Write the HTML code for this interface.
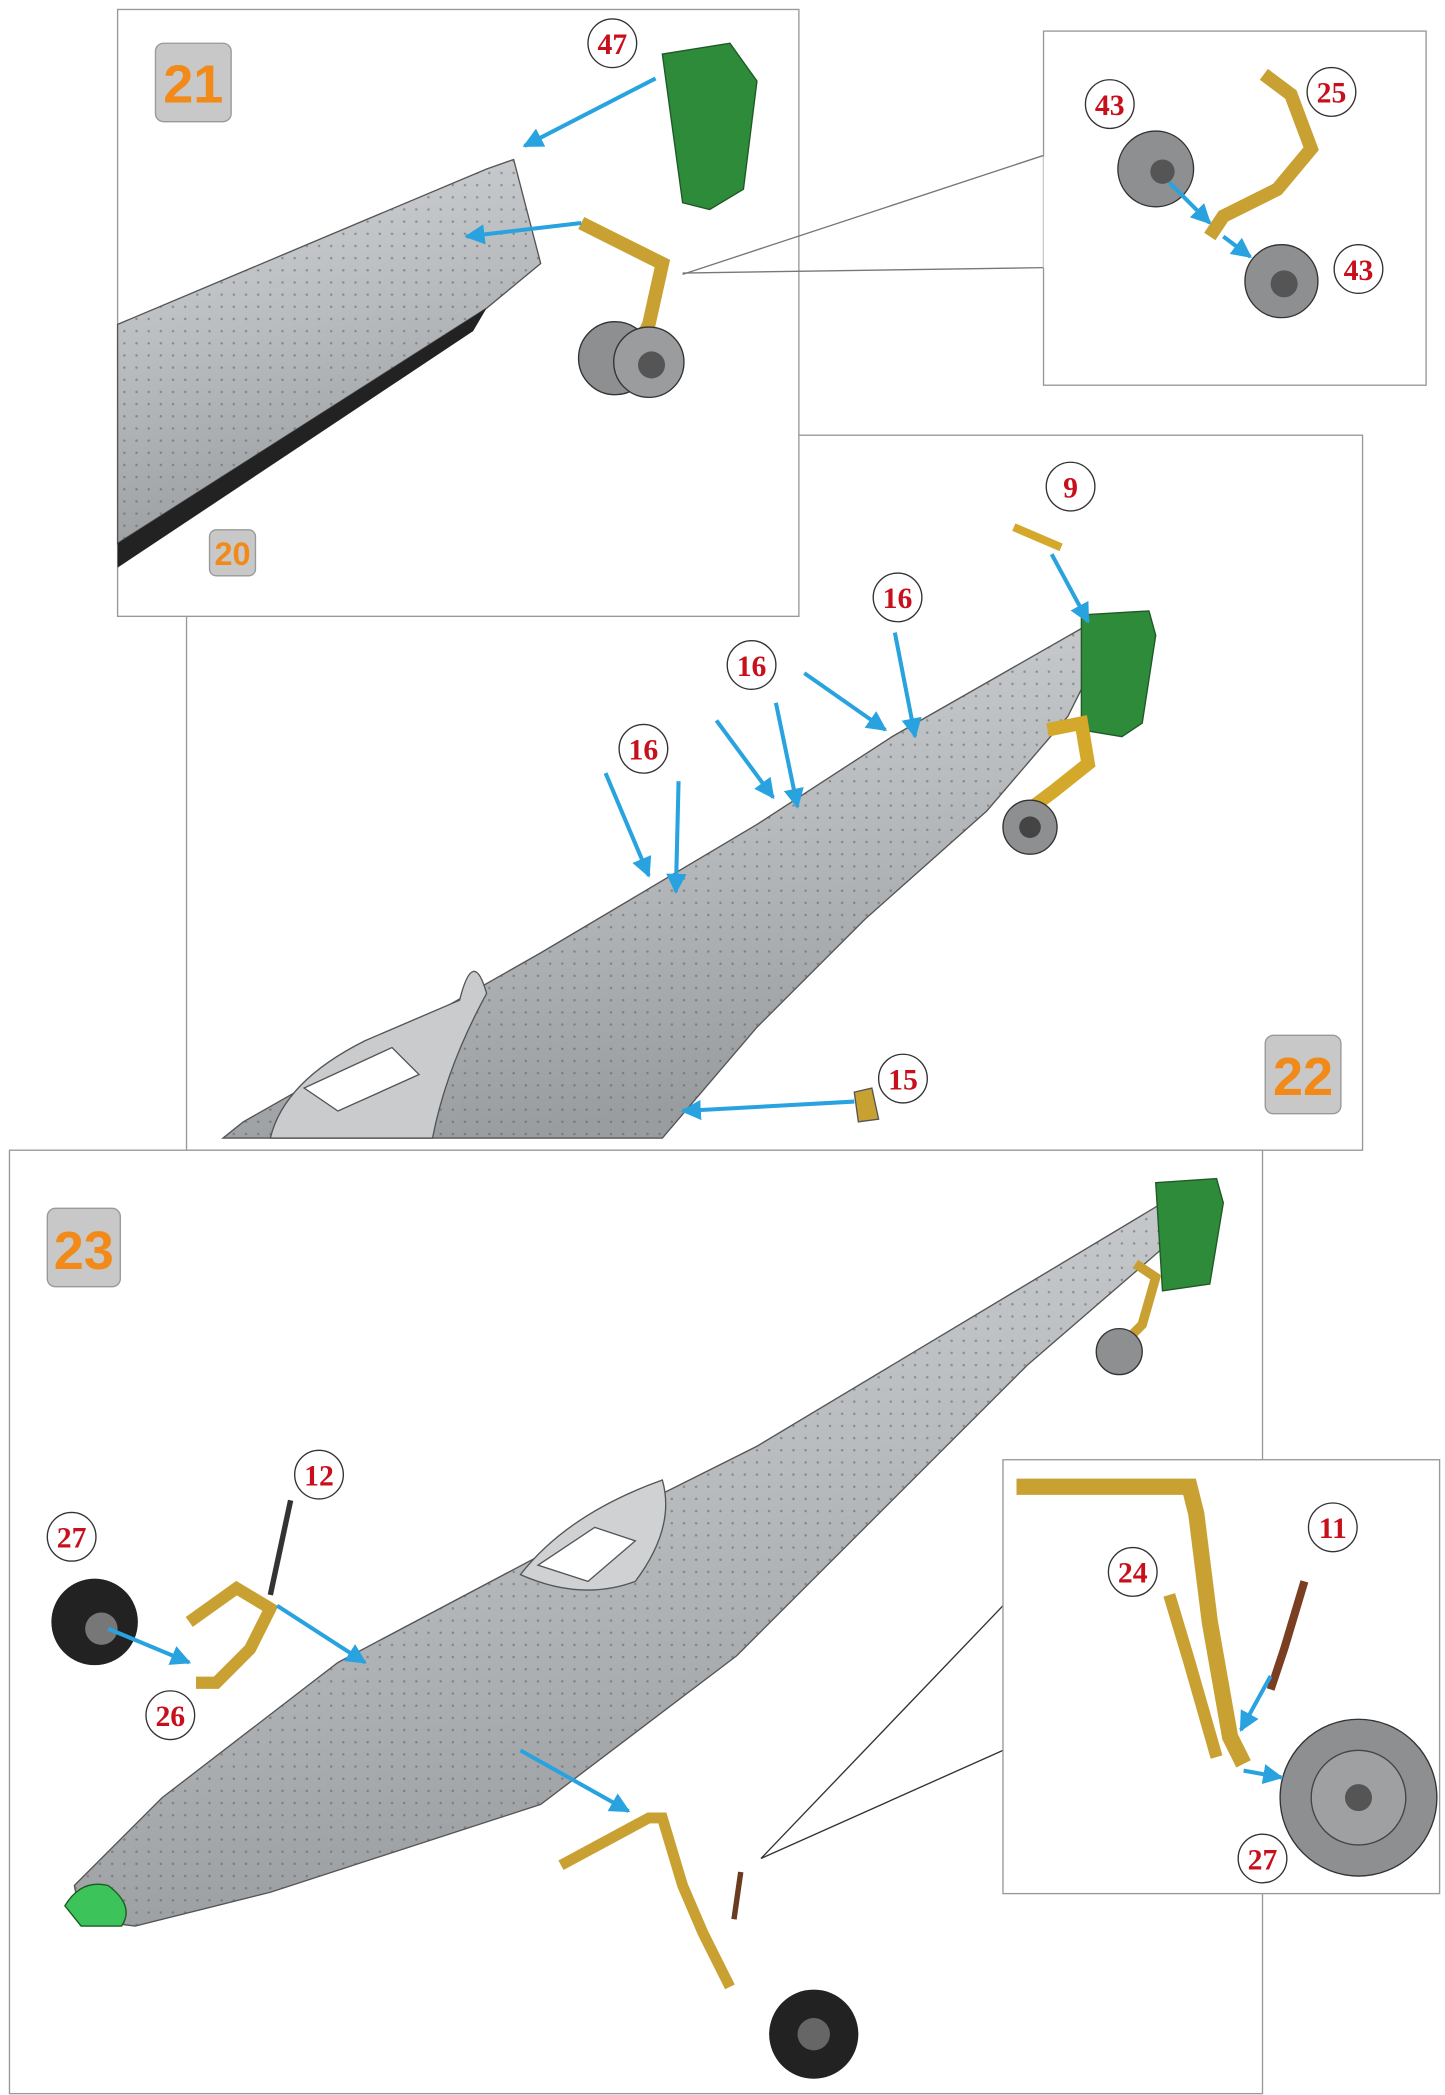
<!DOCTYPE html>
<html><head><meta charset="utf-8"><style>
html,body{margin:0;padding:0;background:#fff;}
svg{display:block;}
.cn{font-family:"Liberation Serif",serif;font-weight:bold;fill:#c8101c;font-size:22px;text-anchor:middle;}
.st{font-family:"Liberation Sans",sans-serif;font-weight:bold;fill:#f28a1a;text-anchor:middle;}
.ar{stroke:#29a3e0;stroke-width:3;fill:none;}
</style></head><body>
<svg width="1445" height="2095" viewBox="0 0 1069 1550" preserveAspectRatio="none" xmlns="http://www.w3.org/2000/svg">
<defs>
<marker id="ah" viewBox="0 0 10 10" refX="9" refY="5" markerWidth="5" markerHeight="5" orient="auto"><path d="M0,0L10,5L0,10z" fill="#29a3e0"/></marker>
<linearGradient id="fg" x1="0" y1="0" x2="0.3" y2="1"><stop offset="0" stop-color="#d4d6d8"/><stop offset="0.5" stop-color="#b9bcbf"/><stop offset="1" stop-color="#9a9da0"/></linearGradient>
<pattern id="dots" width="9" height="9" patternUnits="userSpaceOnUse"><circle cx="2" cy="2" r="0.9" fill="#555"/></pattern>
</defs>

<!-- Panel 22 -->
<rect x="138" y="322" width="870" height="529" fill="#fff" stroke="#999"/>
<path d="M165,842 L180,830 L400,705 L560,610 L660,545 L800,465 L815,480 L790,530 L730,600 L640,680 L560,760 L490,842 Z" fill="url(#fg)" stroke="#555"/>
<path d="M165,842 L180,830 L400,705 L560,610 L660,545 L800,465 L815,480 L790,530 L730,600 L640,680 L560,760 L490,842 Z" fill="url(#dots)" opacity="0.5"/>
<path d="M200,842 Q210,800 270,770 L340,740 Q350,700 360,735 Q330,790 320,842 Z" fill="#c9cbcd" stroke="#555"/>
<path d="M225,805 L290,775 L310,795 L250,822 Z" fill="#fff" stroke="#555"/>
<path d="M800,455 L850,452 L855,470 L845,535 L830,545 L800,540 Z" fill="#2e8b3a" stroke="#1d5a25"/>
<path d="M775,540 L800,535 L805,565 L780,585 L760,600" stroke="#d4a82a" stroke-width="10" fill="none"/>
<circle cx="762" cy="612" r="20" fill="#8d8f91" stroke="#333"/><circle cx="762" cy="612" r="8" fill="#444"/>
<path d="M750,390 L785,405" stroke="#d4a82a" stroke-width="6"/>
<line x1="778" y1="410" x2="805" y2="460" class="ar" marker-end="url(#ah)"/>
<line x1="595" y1="498" x2="655" y2="540" class="ar" marker-end="url(#ah)"/>
<line x1="662" y1="468" x2="677" y2="545" class="ar" marker-end="url(#ah)"/>
<line x1="530" y1="533" x2="572" y2="590" class="ar" marker-end="url(#ah)"/>
<line x1="574" y1="520" x2="590" y2="597" class="ar" marker-end="url(#ah)"/>
<line x1="448" y1="572" x2="480" y2="648" class="ar" marker-end="url(#ah)"/>
<line x1="502" y1="578" x2="500" y2="660" class="ar" marker-end="url(#ah)"/>
<line x1="632" y1="815" x2="505" y2="822" class="ar" marker-end="url(#ah)"/>
<path d="M632,808 L645,805 L650,828 L635,830 Z" fill="#c7a132" stroke="#555"/>
<g><circle cx="792" cy="360" r="18" fill="#fff" stroke="#333"/><text x="792" y="368" class="cn">9</text></g>
<g><circle cx="664" cy="442" r="18" fill="#fff" stroke="#333"/><text x="664" y="450" class="cn">16</text></g>
<g><circle cx="556" cy="492" r="18" fill="#fff" stroke="#333"/><text x="556" y="500" class="cn">16</text></g>
<g><circle cx="476" cy="554" r="18" fill="#fff" stroke="#333"/><text x="476" y="562" class="cn">16</text></g>
<g><circle cx="668" cy="798" r="18" fill="#fff" stroke="#333"/><text x="668" y="806" class="cn">15</text></g>
<rect x="936" y="766" width="56" height="58" rx="6" fill="#c8c8c8" stroke="#999"/><text x="964" y="810" class="st" font-size="40">22</text>

<!-- Panel 21 -->
<rect x="87" y="7" width="504" height="449" fill="#fff" stroke="#999"/>
<path d="M87,240 L360,125 L380,118 L400,195 L360,228 L87,402 Z" fill="url(#fg)" stroke="#555"/>
<path d="M87,240 L360,125 L380,118 L400,195 L360,228 L87,402 Z" fill="url(#dots)" opacity="0.5"/>
<path d="M87,402 L360,228 L350,245 L87,420 Z" fill="#222"/>
<path d="M490,40 L540,32 L560,60 L550,140 L525,155 L505,150 Z" fill="#2e8b3a" stroke="#1d5a25"/>
<path d="M430,165 L470,185 L490,195 L480,240 L470,260" stroke="#c9a032" stroke-width="10" fill="none"/>
<circle cx="455" cy="265" r="27" fill="#8d8f91" stroke="#333"/><circle cx="480" cy="268" r="26" fill="#9a9c9e" stroke="#333"/><circle cx="482" cy="270" r="10" fill="#555"/>
<line x1="485" y1="58" x2="388" y2="108" class="ar" marker-end="url(#ah)"/>
<line x1="430" y1="165" x2="345" y2="175" class="ar" marker-end="url(#ah)"/>
<g><circle cx="453" cy="32" r="18" fill="#fff" stroke="#333"/><text x="453" y="40" class="cn">47</text></g>
<rect x="115" y="32" width="56" height="58" rx="6" fill="#c8c8c8" stroke="#999"/><text x="143" y="76" class="st" font-size="40">21</text>
<rect x="155" y="392" width="34" height="34" rx="5" fill="#c8c8c8" stroke="#999"/><text x="172" y="418" class="st" font-size="24">20</text>

<!-- inset top right -->
<polyline points="505,203 772,115" stroke="#777" fill="none"/>
<polyline points="505,202 772,198" stroke="#777" fill="none"/>
<rect x="772" y="23" width="283" height="262" fill="#fff" stroke="#999"/>
<rect x="772" y="116" width="2" height="82" fill="#fff"/>
<path d="M935,55 L955,70 L970,110 L945,140 L905,160 L895,175" stroke="#c9a032" stroke-width="10" fill="none"/>
<circle cx="855" cy="125" r="28" fill="#8d8f91" stroke="#333"/><circle cx="860" cy="127" r="9" fill="#555"/>
<circle cx="948" cy="208" r="27" fill="#8d8f91" stroke="#333"/><circle cx="950" cy="210" r="10" fill="#555"/>
<line x1="865" y1="135" x2="895" y2="165" class="ar" marker-end="url(#ah)"/>
<line x1="905" y1="175" x2="925" y2="190" class="ar" marker-end="url(#ah)"/>
<g><circle cx="821" cy="77" r="18" fill="#fff" stroke="#333"/><text x="821" y="85" class="cn">43</text></g>
<g><circle cx="985" cy="68" r="18" fill="#fff" stroke="#333"/><text x="985" y="76" class="cn">25</text></g>
<g><circle cx="1005" cy="199" r="18" fill="#fff" stroke="#333"/><text x="1005" y="207" class="cn">43</text></g>

<!-- Panel 23 -->
<rect x="7" y="851" width="927" height="698" fill="#fff" stroke="#999"/>
<path d="M55,1395 L120,1330 L250,1230 L420,1140 L560,1070 L860,890 L870,915 L760,1010 L545,1225 L400,1335 L200,1400 L100,1425 L60,1420 Z" fill="url(#fg)" stroke="#555"/>
<path d="M55,1395 L120,1330 L250,1230 L420,1140 L560,1070 L860,890 L870,915 L760,1010 L545,1225 L400,1335 L200,1400 L100,1425 L60,1420 Z" fill="url(#dots)" opacity="0.5"/>
<path d="M48,1410 Q60,1390 80,1395 Q100,1410 90,1425 L60,1425 Z" fill="#3cc45a" stroke="#1d5a25"/>
<path d="M385,1165 Q420,1120 490,1095 Q500,1130 470,1170 Q430,1185 385,1165 Z" fill="#cfd1d3" stroke="#555"/>
<path d="M398,1158 L440,1130 L470,1140 L435,1170 Z" fill="#fff" stroke="#555"/>
<path d="M855,875 L900,872 L905,890 L895,950 L860,955 Z" fill="#2e8b3a" stroke="#1d5a25"/>
<path d="M840,935 L855,945 L845,980 L830,995" stroke="#c9a032" stroke-width="7" fill="none"/>
<circle cx="828" cy="1000" r="17" fill="#8d8f91" stroke="#333"/>
<circle cx="70" cy="1200" r="32" fill="#222"/><circle cx="75" cy="1205" r="12" fill="#777"/>
<path d="M140,1200 L175,1175 L200,1190 L185,1220 L160,1245 L145,1245" stroke="#c9a032" stroke-width="9" fill="none"/>
<line x1="200" y1="1180" x2="215" y2="1110" stroke="#333" stroke-width="4"/>
<line x1="80" y1="1205" x2="140" y2="1230" class="ar" marker-end="url(#ah)"/>
<line x1="205" y1="1188" x2="270" y2="1230" class="ar" marker-end="url(#ah)"/>
<line x1="385" y1="1295" x2="465" y2="1340" class="ar" marker-end="url(#ah)"/>
<path d="M415,1380 L480,1345 L490,1345 L505,1395 L520,1430 L540,1470" stroke="#c9a032" stroke-width="8" fill="none"/>
<line x1="548" y1="1385" x2="543" y2="1420" stroke="#6b3b1f" stroke-width="4"/>
<circle cx="602" cy="1505" r="33" fill="#222"/><circle cx="602" cy="1505" r="12" fill="#666"/>
<g><circle cx="236" cy="1091" r="18" fill="#fff" stroke="#333"/><text x="236" y="1099" class="cn">12</text></g>
<g><circle cx="53" cy="1137" r="18" fill="#fff" stroke="#333"/><text x="53" y="1145" class="cn">27</text></g>
<g><circle cx="126" cy="1269" r="18" fill="#fff" stroke="#333"/><text x="126" y="1277" class="cn">26</text></g>
<rect x="35" y="894" width="54" height="58" rx="6" fill="#c8c8c8" stroke="#999"/><text x="62" y="939" class="st" font-size="40">23</text>

<!-- inset bottom right -->
<polyline points="563,1375 742,1188" stroke="#333" fill="none"/>
<polyline points="563,1375 742,1295" stroke="#333" fill="none"/>
<rect x="742" y="1080" width="323" height="321" fill="#fff" stroke="#999"/>
<path d="M752,1100 L880,1100 L885,1120 L895,1200 L910,1285 L920,1305" stroke="#c9a032" stroke-width="12" fill="none"/>
<path d="M865,1180 L880,1230 L900,1300" stroke="#c9a032" stroke-width="9" fill="none"/>
<path d="M965,1170 L950,1220 L940,1250" stroke="#7a3f22" stroke-width="6" fill="none"/>
<circle cx="1005" cy="1330" r="58" fill="#8d8f91" stroke="#333"/><circle cx="1005" cy="1330" r="35" fill="#9ea0a2" stroke="#444"/><circle cx="1005" cy="1330" r="10" fill="#555"/>
<line x1="940" y1="1240" x2="918" y2="1280" class="ar" marker-end="url(#ah)"/>
<line x1="920" y1="1310" x2="948" y2="1315" class="ar" marker-end="url(#ah)"/>
<g><circle cx="986" cy="1130" r="18" fill="#fff" stroke="#333"/><text x="986" y="1138" class="cn">11</text></g>
<g><circle cx="838" cy="1163" r="18" fill="#fff" stroke="#333"/><text x="838" y="1171" class="cn">24</text></g>
<g><circle cx="934" cy="1375" r="18" fill="#fff" stroke="#333"/><text x="934" y="1383" class="cn">27</text></g>
</svg>
</body></html>
